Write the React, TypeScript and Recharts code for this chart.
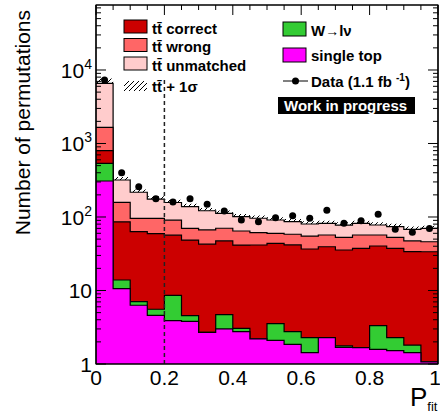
import React from "react";
import { ComposedChart, Area, Scatter, XAxis, YAxis, ReferenceLine, ReferenceArea } from "recharts";

const FONT = "'Liberation Sans', Arial, Helvetica, sans-serif";

// P_fit binning: 20 bins of width 0.05
const binEdges = [0, 0.05, 0.1, 0.15, 0.2, 0.25, 0.3, 0.35, 0.4, 0.45, 0.5, 0.55, 0.6, 0.65, 0.7, 0.75, 0.8, 0.85, 0.9, 0.95, 1];

// per-bin contributions (stacked bottom to top)
const singleTop = [309, 10.6, 6.3, 4.6, 3.9, 3.8, 2.7, 3.0, 2.75, 2.2, 2.1, 1.85, 1.43, 2.28, 1.68, 1.67, 1.58, 1.52, 1.43, 1.07];
const wToLNu = [229, 3.3, 0.75, 0.96, 4.7, 0.74, 0, 1.7, 0.3, 0, 1.45, 0.9, 0.85, 0, 0.08, 0, 1.74, 0.76, 0.38, 0];
const ttCorrect = [260, 72, 56, 54, 48, 44, 40, 42.6, 38.5, 39.4, 40.3, 38.9, 34.4, 37.1, 33.8, 35.8, 37, 35.2, 31.9, 32.6];
const ttWrong = [862, 72, 33, 36, 34, 21.5, 24, 23, 22.9, 19.5, 16.1, 16.6, 18.4, 17.5, 17.3, 19.4, 16.6, 15.4, 13.5, 12.4];
const ttUnmatched = [4930, 161, 121, 80, 67, 68, 55, 42, 36.5, 35, 31, 28, 25.2, 25.1, 24.9, 25.1, 20.9, 20.9, 20.8, 24.1];
const ttSigma = [1100, 30, 20, 16, 14, 13, 11, 10, 9, 9, 8, 8, 7, 7, 7, 7, 7, 7, 6, 6];

// Data (1.1 fb^-1)
const dataCounts = [7310, 401, 258, 177, 160, 177, 149, 121, 91, 86, 98, 104, 96, 124, 82, 89, 109, 68, 62, 70];

const cutValue = 0.2;
const yDomain: [number, number] = [1, 76600];
const yTicks = [
  1, 2, 3, 4, 5, 6, 7, 8, 9,
  10, 20, 30, 40, 50, 60, 70, 80, 90,
  100, 200, 300, 400, 500, 600, 700, 800, 900,
  1000, 2000, 3000, 4000, 5000, 6000, 7000, 8000, 9000,
  10000, 20000, 30000, 40000, 50000, 60000, 70000,
];
const xLabelTicks = [0, 0.2, 0.4, 0.6, 0.8, 1];

const COLORS = {
  single: "#ff00ff",
  wlnu: "#33cc33",
  correct: "#cc0000",
  wrong: "#ff6666",
  unmatched: "#ffcccc",
};

// cumulative stack tops at each bin edge (last edge repeats the last bin for the step)
const rows = binEdges.map((x, i) => {
  const j = Math.min(i, singleTop.length - 1);
  const single = singleTop[j];
  const wlnu = single + wToLNu[j];
  const correct = wlnu + ttCorrect[j];
  const wrong = correct + ttWrong[j];
  const total = wrong + ttUnmatched[j];
  return { x, single, wlnu, correct, wrong, total, band: [total, total + ttSigma[j]] };
});

const dataPoints = dataCounts.map((count, i) => ({
  x: (binEdges[i] + binEdges[i + 1]) / 2,
  count,
}));

const isMajor = (v: number) => Math.abs(Math.log10(v) - Math.round(Math.log10(v))) < 1e-9;
const isMajorX = (v: number) => Math.abs(v * 5 - Math.round(v * 5)) < 1e-9;

function LeftTick(props: any) {
  const { x, y, payload } = props;
  const v = payload.value;
  const major = isMajor(v);
  const exp = Math.round(Math.log10(v));
  return (
    <g>
      <line x1={x} x2={x + (major ? 10 : 5)} y1={y} y2={y} stroke="#000" strokeWidth={1} />
      {major && (
        <text x={x - 4} y={y + 8} textAnchor="end" fontFamily={FONT} fontSize={21} fill="#000">
          {exp === 0 ? "1" : exp === 1 ? "10" : (
            <>
              10<tspan dy={-9} fontSize={14}>{exp}</tspan>
            </>
          )}
        </text>
      )}
    </g>
  );
}

function RightTick(props: any) {
  const { x, y, payload } = props;
  const major = isMajor(payload.value);
  return <line x1={x} x2={x - (major ? 10 : 5)} y1={y} y2={y} stroke="#000" strokeWidth={1} />;
}

function TopTick(props: any) {
  const { x, y, payload } = props;
  const major = isMajorX(payload.value);
  return <line x1={x} x2={x} y1={y} y2={y + (major ? 10 : 5)} stroke="#000" strokeWidth={1} />;
}

function BottomTick(props: any) {
  const { x, y, payload } = props;
  // keep the last label inside the canvas
  return (
    <text x={Math.min(x, 435)} y={y + 21} textAnchor="middle" fontFamily={FONT} fontSize={21} fill="#000">
      {payload.value}
    </text>
  );
}

const DataDot = (props: any) => <circle cx={props.cx} cy={props.cy} r={3.5} fill="#000" />;

const TT = "tt\u0304";

function LegendLayer() {
  const txt = { fontFamily: FONT, fontSize: 15, fontWeight: 700, fill: "#000" } as const;
  return (
    <svg width={440} height={414} style={{ position: "absolute", left: 0, top: 0, pointerEvents: "none" }}>
      {/* left column */}
      <rect x={124} y={20} width={23} height={13} fill={COLORS.correct} stroke="#000" />
      <text x={152} y={34} {...txt}>{TT} correct</text>
      <rect x={124} y={38.5} width={23} height={13} fill={COLORS.wrong} stroke="#000" />
      <text x={152} y={52} {...txt}>{TT} wrong</text>
      <rect x={124} y={57} width={23} height={13} fill={COLORS.unmatched} stroke="#000" />
      <text x={152} y={70.5} {...txt}>{TT} unmatched</text>
      <rect x={124} y={81} width={23} height={10} fill="url(#ttHatch)" />
      <text x={152} y={92} {...txt}>{TT} + 1σ</text>

      {/* right column */}
      <rect x={283} y={22} width={23} height={14} fill={COLORS.wlnu} stroke="#000" />
      <text x={311} y={36} {...txt}>
        W<tspan fontSize={14} fontWeight={400}>→</tspan>lν
      </text>
      <rect x={283} y={48} width={23} height={14} fill={COLORS.single} stroke="#000" />
      <text x={311} y={61} {...txt}>single top</text>
      <line x1={283} x2={308} y1={81} y2={81} stroke="#000" strokeWidth={1} />
      <circle cx={295.5} cy={81} r={3.5} fill="#000" />
      <text x={311} y={87} {...txt}>
        Data (1.1 fb <tspan dy={-6} fontSize={10}>-1</tspan><tspan dy={6}>)</tspan>
      </text>
      <rect x={278} y={97} width={137} height={17} fill="#000" />
      <text x={284} y={110.5} {...txt} fill="#fff">Work in progress</text>

      {/* axis titles */}
      <text
        transform="translate(30,10) rotate(-90)"
        textAnchor="end"
        fontFamily={FONT}
        fontSize={21}
        fill="#000"
      >
        Number of permutations
      </text>
      <text x={410} y={406} fontFamily={FONT} fontSize={26} fill="#000">
        P<tspan dy={5} fontSize={13}>fit</tspan>
      </text>
    </svg>
  );
}

export default function App() {
  const areaProps = {
    type: "stepAfter" as const,
    stroke: "#000",
    strokeWidth: 1.2,
    fillOpacity: 1,
    baseValue: "dataMin" as const,
    isAnimationActive: false,
    dot: false,
    activeDot: false,
  };
  return (
    <div style={{ position: "absolute", left: 0, top: 0, width: 440, height: 414, background: "#fff" }}>
      <ComposedChart width={440} height={414} data={rows} margin={{ top: 0, right: 0, bottom: 0, left: 0 }}>
        <defs>
          <pattern id="ttHatch" width={5} height={5} patternUnits="userSpaceOnUse">
            <path d="M0,5 L5,0 M-1,1 L1,-1 M4,6 L6,4" stroke="#000" strokeWidth={1} />
          </pattern>
        </defs>
        <XAxis
          dataKey="x"
          type="number"
          domain={[0, 1]}
          allowDataOverflow
          ticks={xLabelTicks}
          interval={0}
          height={50}
          tickSize={0}
          tickMargin={0}
          tickLine={false}
          axisLine={{ stroke: "#000", strokeWidth: 1.2 }}
          tick={<BottomTick />}
        />
        <XAxis
          xAxisId="top"
          orientation="top"
          dataKey="x"
          type="number"
          domain={[0, 1]}
          allowDataOverflow
          ticks={binEdges}
          interval={0}
          height={5}
          tickSize={0}
          tickMargin={0}
          tickLine={false}
          axisLine={{ stroke: "#000", strokeWidth: 1.2 }}
          tick={<TopTick />}
        />
        <YAxis
          scale="log"
          type="number"
          domain={yDomain}
          allowDataOverflow
          ticks={yTicks}
          interval={0}
          width={96}
          tickSize={0}
          tickMargin={0}
          tickLine={false}
          axisLine={{ stroke: "#000", strokeWidth: 1.2 }}
          tick={<LeftTick />}
        />
        <YAxis
          yAxisId="right"
          orientation="right"
          scale="log"
          type="number"
          domain={yDomain}
          allowDataOverflow
          ticks={yTicks}
          interval={0}
          width={2}
          tickSize={0}
          tickMargin={0}
          tickLine={false}
          axisLine={{ stroke: "#000", strokeWidth: 1.2 }}
          tick={<RightTick />}
        />
        <Area {...areaProps} dataKey="band" stroke="none" fill="url(#ttHatch)" />
        <Area {...areaProps} dataKey="total" fill={COLORS.unmatched} />
        <Area {...areaProps} dataKey="wrong" fill={COLORS.wrong} />
        <Area {...areaProps} dataKey="correct" fill={COLORS.correct} />
        <Area {...areaProps} dataKey="wlnu" fill={COLORS.wlnu} />
        <Area {...areaProps} dataKey="single" fill={COLORS.single} />
        <ReferenceLine
          segment={[{ x: cutValue, y: yDomain[0] }, { x: cutValue, y: Math.max(...dataCounts) }]}
          stroke="#222"
          strokeWidth={1.5}
          strokeDasharray="4 3"
        />
        <ReferenceArea x1={0} x2={1} y1={yDomain[0]} y2={yDomain[1]} fill="none" stroke="#000" strokeWidth={1.2} />
        <Scatter data={dataPoints} dataKey="count" shape={<DataDot />} isAnimationActive={false} />
      </ComposedChart>
      <LegendLayer />
    </div>
  );
}
